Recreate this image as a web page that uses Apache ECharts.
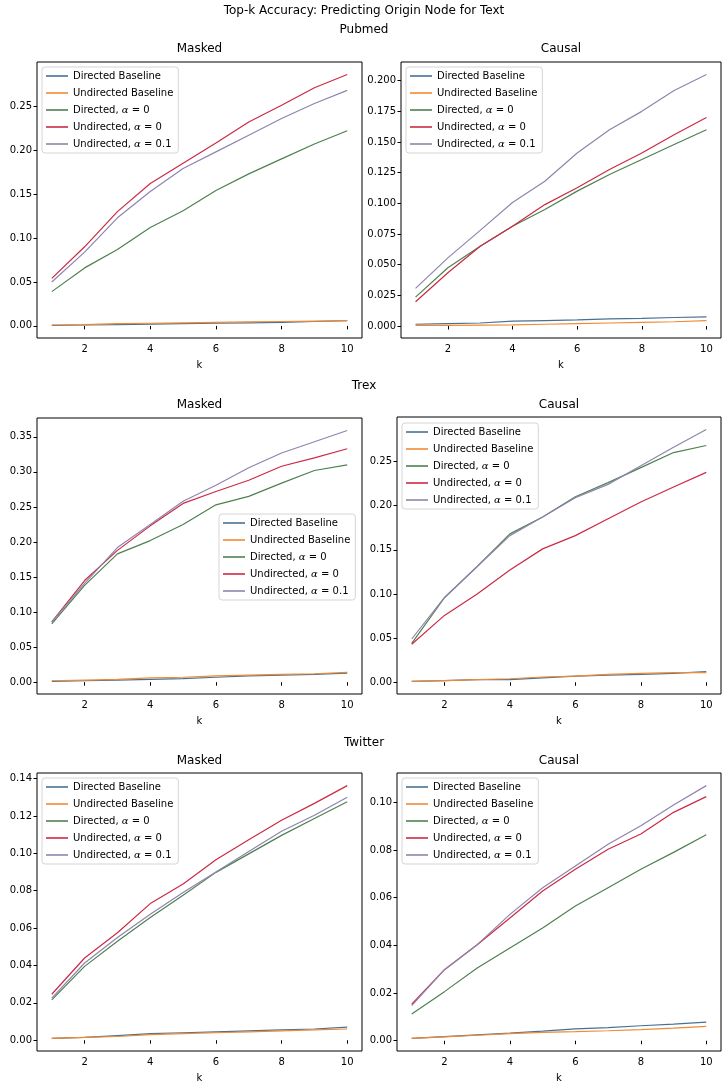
<!DOCTYPE html>
<html>
<head>
<meta charset="utf-8">
<script src="https://cdn.jsdelivr.net/npm/echarts@6/dist/echarts.min.js"></script>
<style>
  html, body { margin: 0; padding: 0; background: #fff; }
  #grafik { width: 728px; height: 1088px; }
</style>
</head>
<body>
<div id="grafik"></div>
<script>
var ks = [1, 2, 3, 4, 5, 6, 7, 8, 9, 10];
var names = ['Directed Baseline', 'Undirected Baseline', 'Directed, α = 0', 'Undirected, α = 0', 'Undirected, α = 0.1'];
var colors = ['#467196', '#f08a33', '#4e8050', '#cc2a44', '#8f84ad'];

// Pubmed
var pubmedMaskedDirBase = [0.0005, 0.001, 0.0015, 0.002, 0.0025, 0.003, 0.0035, 0.004, 0.005, 0.006];
var pubmedMaskedUndBase = [0.001, 0.0015, 0.0025, 0.003, 0.0035, 0.004, 0.0045, 0.005, 0.0055, 0.006];
var pubmedMaskedDir0 = [0.039, 0.066, 0.087, 0.112, 0.131, 0.154, 0.173, 0.190, 0.207, 0.222];
var pubmedMaskedUnd0 = [0.054, 0.090, 0.130, 0.162, 0.185, 0.208, 0.232, 0.251, 0.271, 0.286];
var pubmedMaskedUnd01 = [0.050, 0.084, 0.123, 0.153, 0.179, 0.198, 0.217, 0.236, 0.253, 0.268];

var pubmedCausalDirBase = [0.0015, 0.002, 0.0025, 0.004, 0.0045, 0.005, 0.0058, 0.0063, 0.007, 0.0075];
var pubmedCausalUndBase = [0.0005, 0.0005, 0.0008, 0.001, 0.0015, 0.002, 0.0025, 0.003, 0.0035, 0.0045];
var pubmedCausalDir0 = [0.0236, 0.0475, 0.065, 0.0814, 0.095, 0.110, 0.1235, 0.1357, 0.148, 0.160];
var pubmedCausalUnd0 = [0.0198, 0.0434, 0.065, 0.0814, 0.099, 0.1127, 0.1276, 0.141, 0.156, 0.170];
var pubmedCausalUnd01 = [0.0307, 0.0556, 0.078, 0.1007, 0.118, 0.141, 0.160, 0.175, 0.192, 0.205];

// Trex
var trexMaskedDirBase = [0.001, 0.002, 0.003, 0.004, 0.005, 0.007, 0.009, 0.010, 0.011, 0.013];
var trexMaskedUndBase = [0.002, 0.003, 0.004, 0.006, 0.007, 0.009, 0.010, 0.011, 0.012, 0.014];
var trexMaskedDir0 = [0.083, 0.138, 0.183, 0.202, 0.225, 0.253, 0.265, 0.284, 0.302, 0.310];
var trexMaskedUnd0 = [0.086, 0.145, 0.188, 0.223, 0.255, 0.272, 0.288, 0.308, 0.320, 0.333];
var trexMaskedUnd01 = [0.0856, 0.141, 0.192, 0.225, 0.258, 0.281, 0.306, 0.327, 0.343, 0.359];

var trexCausalDirBase = [0.001, 0.002, 0.003, 0.003, 0.005, 0.007, 0.008, 0.009, 0.010, 0.012];
var trexCausalUndBase = [0.001, 0.002, 0.003, 0.004, 0.006, 0.007, 0.009, 0.010, 0.011, 0.011];
var trexCausalDir0 = [0.044, 0.0957, 0.131, 0.168, 0.187, 0.210, 0.226, 0.243, 0.260, 0.268];
var trexCausalUnd0 = [0.043, 0.0757, 0.100, 0.127, 0.151, 0.166, 0.185, 0.204, 0.221, 0.2376];
var trexCausalUnd01 = [0.049, 0.096, 0.131, 0.166, 0.187, 0.209, 0.224, 0.245, 0.266, 0.286];

// Twitter
var twitterMaskedDirBase = [0.001, 0.0015, 0.0025, 0.0035, 0.004, 0.0045, 0.005, 0.0055, 0.006, 0.007];
var twitterMaskedUndBase = [0.001, 0.0015, 0.002, 0.003, 0.0035, 0.004, 0.0045, 0.005, 0.0055, 0.006];
var twitterMaskedDir0 = [0.0216, 0.0395, 0.053, 0.0656, 0.0776, 0.0898, 0.0997, 0.1096, 0.1186, 0.1276];
var twitterMaskedUnd0 = [0.0246, 0.044, 0.0575, 0.0731, 0.0836, 0.0965, 0.1073, 0.1177, 0.1267, 0.1362];
var twitterMaskedUnd01 = [0.0225, 0.0413, 0.055, 0.0674, 0.079, 0.090, 0.101, 0.1118, 0.1204, 0.130];

var twitterCausalDirBase = [0.001, 0.0017, 0.0025, 0.0032, 0.004, 0.005, 0.0055, 0.0063, 0.007, 0.0078];
var twitterCausalUndBase = [0.001, 0.0016, 0.0023, 0.003, 0.0035, 0.0038, 0.0042, 0.0047, 0.0053, 0.006];
var twitterCausalDir0 = [0.0112, 0.0206, 0.0305, 0.0389, 0.0473, 0.0565, 0.0642, 0.0719, 0.079, 0.0864];
var twitterCausalUnd0 = [0.0153, 0.0298, 0.0403, 0.0515, 0.0628, 0.0719, 0.0803, 0.0867, 0.0958, 0.1024];
var twitterCausalUnd01 = [0.0147, 0.0298, 0.0403, 0.053, 0.0642, 0.0733, 0.0824, 0.0902, 0.0989, 0.107];

// tick labels
var xTicks = [2, 4, 6, 8, 10];
var ticks005 = [0, 0.05, 0.10, 0.15, 0.20, 0.25];
var ticks0025 = [0, 0.025, 0.05, 0.075, 0.10, 0.125, 0.15, 0.175, 0.20];
var ticksTrexMasked = [0, 0.05, 0.10, 0.15, 0.20, 0.25, 0.30, 0.35];
var ticksTrexCausal = [0, 0.05, 0.10, 0.15, 0.20, 0.25];
var ticksTwitterMasked = [0, 0.02, 0.04, 0.06, 0.08, 0.10, 0.12, 0.14];
var ticksTwitterCausal = [0, 0.02, 0.04, 0.06, 0.08, 0.10];

var panels = [
  { title: 'Masked', lines: [pubmedMaskedDirBase, pubmedMaskedUndBase, pubmedMaskedDir0, pubmedMaskedUnd0, pubmedMaskedUnd01], ticks: ticks005, dec: 2 },
  { title: 'Causal', lines: [pubmedCausalDirBase, pubmedCausalUndBase, pubmedCausalDir0, pubmedCausalUnd0, pubmedCausalUnd01], ticks: ticks0025, dec: 3 },
  { title: 'Masked', lines: [trexMaskedDirBase, trexMaskedUndBase, trexMaskedDir0, trexMaskedUnd0, trexMaskedUnd01], ticks: ticksTrexMasked, dec: 2 },
  { title: 'Causal', lines: [trexCausalDirBase, trexCausalUndBase, trexCausalDir0, trexCausalUnd0, trexCausalUnd01], ticks: ticksTrexCausal, dec: 2 },
  { title: 'Masked', lines: [twitterMaskedDirBase, twitterMaskedUndBase, twitterMaskedDir0, twitterMaskedUnd0, twitterMaskedUnd01], ticks: ticksTwitterMasked, dec: 2 },
  { title: 'Causal', lines: [twitterCausalDirBase, twitterCausalUndBase, twitterCausalDir0, twitterCausalUnd0, twitterCausalUnd01], ticks: ticksTwitterCausal, dec: 2 }
];

// layout: grid boxes, subplot title top, legend spot
var boxes = [
  { left: 37, top: 62, width: 325, height: 276, titleTop: 43, legend: { left: 42, top: 67 } },
  { left: 401, top: 62, width: 320, height: 276, titleTop: 43, legend: { left: 406, top: 67 } },
  { left: 37, top: 418, width: 325, height: 276, titleTop: 399, legend: { left: 219, top: 514 } },
  { left: 397, top: 417, width: 324, height: 277, titleTop: 399, legend: { left: 402, top: 423 } },
  { left: 37, top: 773, width: 325, height: 278, titleTop: 755, legend: { left: 42, top: 778 } },
  { left: 397, top: 773, width: 324, height: 278, titleTop: 755, legend: { left: 402, top: 778 } }
];

var font = 'DejaVu Sans';
var titles = [
  { text: 'Top-k Accuracy: Predicting Origin Node for Text', left: 364, top: 5 },
  { text: 'Pubmed', left: 364, top: 24 },
  { text: 'Trex', left: 364, top: 380 },
  { text: 'Twitter', left: 364, top: 737 }
];
var option = { animation: false, backgroundColor: '#fff', title: [], grid: [], xAxis: [], yAxis: [], legend: [], series: [] };

titles.forEach(function (t) {
  option.title.push({ text: t.text, left: t.left, top: t.top, textAlign: 'center', padding: 0,
    textStyle: { fontFamily: font, fontSize: 12, fontWeight: 'normal', color: '#000' } });
});

panels.forEach(function (p, i) {
  var b = boxes[i];
  option.title.push({ text: p.title, left: b.left + b.width / 2, top: b.titleTop, textAlign: 'center', padding: 0,
    textStyle: { fontFamily: font, fontSize: 12, fontWeight: 'normal', color: '#000' } });
  option.grid.push({ left: b.left, top: b.top, width: b.width, height: b.height, show: true,
    borderColor: '#000', borderWidth: 1, backgroundColor: 'transparent' });

  var all = [].concat.apply([], p.lines);
  var lo = Math.min.apply(null, all), hi = Math.max.apply(null, all);
  var pad = (hi - lo) * 0.05;

  option.xAxis.push({
    type: 'value', gridIndex: i, min: 0.55, max: 10.45,
    name: 'k', nameLocation: 'middle', nameGap: 22,
    nameTextStyle: { fontFamily: font, fontSize: 10, color: '#000' },
    axisLine: { show: false },
    axisTick: { show: true, length: 3.5, inside: false, customValues: xTicks, lineStyle: { color: '#000' } },
    axisLabel: { customValues: xTicks, fontFamily: font, fontSize: 10, color: '#000', margin: 6 },
    splitLine: { show: false }
  });
  option.yAxis.push({
    type: 'value', gridIndex: i, min: lo - pad, max: hi + pad,
    axisLine: { show: false },
    axisTick: { show: true, length: 3.5, customValues: p.ticks, lineStyle: { color: '#000' } },
    axisLabel: { customValues: p.ticks, fontFamily: font, fontSize: 10, color: '#000', margin: 5,
      formatter: (function (d) { return function (v) { return (Math.abs(v) < 1e-9 ? 0 : v).toFixed(d); }; })(p.dec) },
    splitLine: { show: false }
  });
  option.legend.push({
    orient: 'vertical', left: b.legend.left, top: b.legend.top, data: names,
    icon: 'rect', itemWidth: 22, itemHeight: 1.6, itemGap: 5,
    padding: [3, 5, 3, 4], backgroundColor: 'rgba(255,255,255,0.8)',
    borderColor: '#d5d5d5', borderWidth: 1, borderRadius: 3,
    selectedMode: false,
    formatter: function (n) { return n.replace('α', '{i|α}'); },
    textStyle: { fontFamily: font, fontSize: 10, color: '#000', lineHeight: 12,
      rich: { i: { fontFamily: 'DejaVu Serif', fontStyle: 'italic', fontSize: 10, color: '#000' } } }
  });
  p.lines.forEach(function (vals, j) {
    option.series.push({
      name: names[j], type: 'line', xAxisIndex: i, yAxisIndex: i,
      data: ks.map(function (k, n) { return [k, vals[n]]; }),
      symbol: 'none', z: 2 + j, color: colors[j],
      lineStyle: { width: 1.2, color: colors[j] }
    });
  });
});

var grafik = echarts.init(document.getElementById('grafik'));
grafik.setOption(option);
</script>
</body>
</html>
